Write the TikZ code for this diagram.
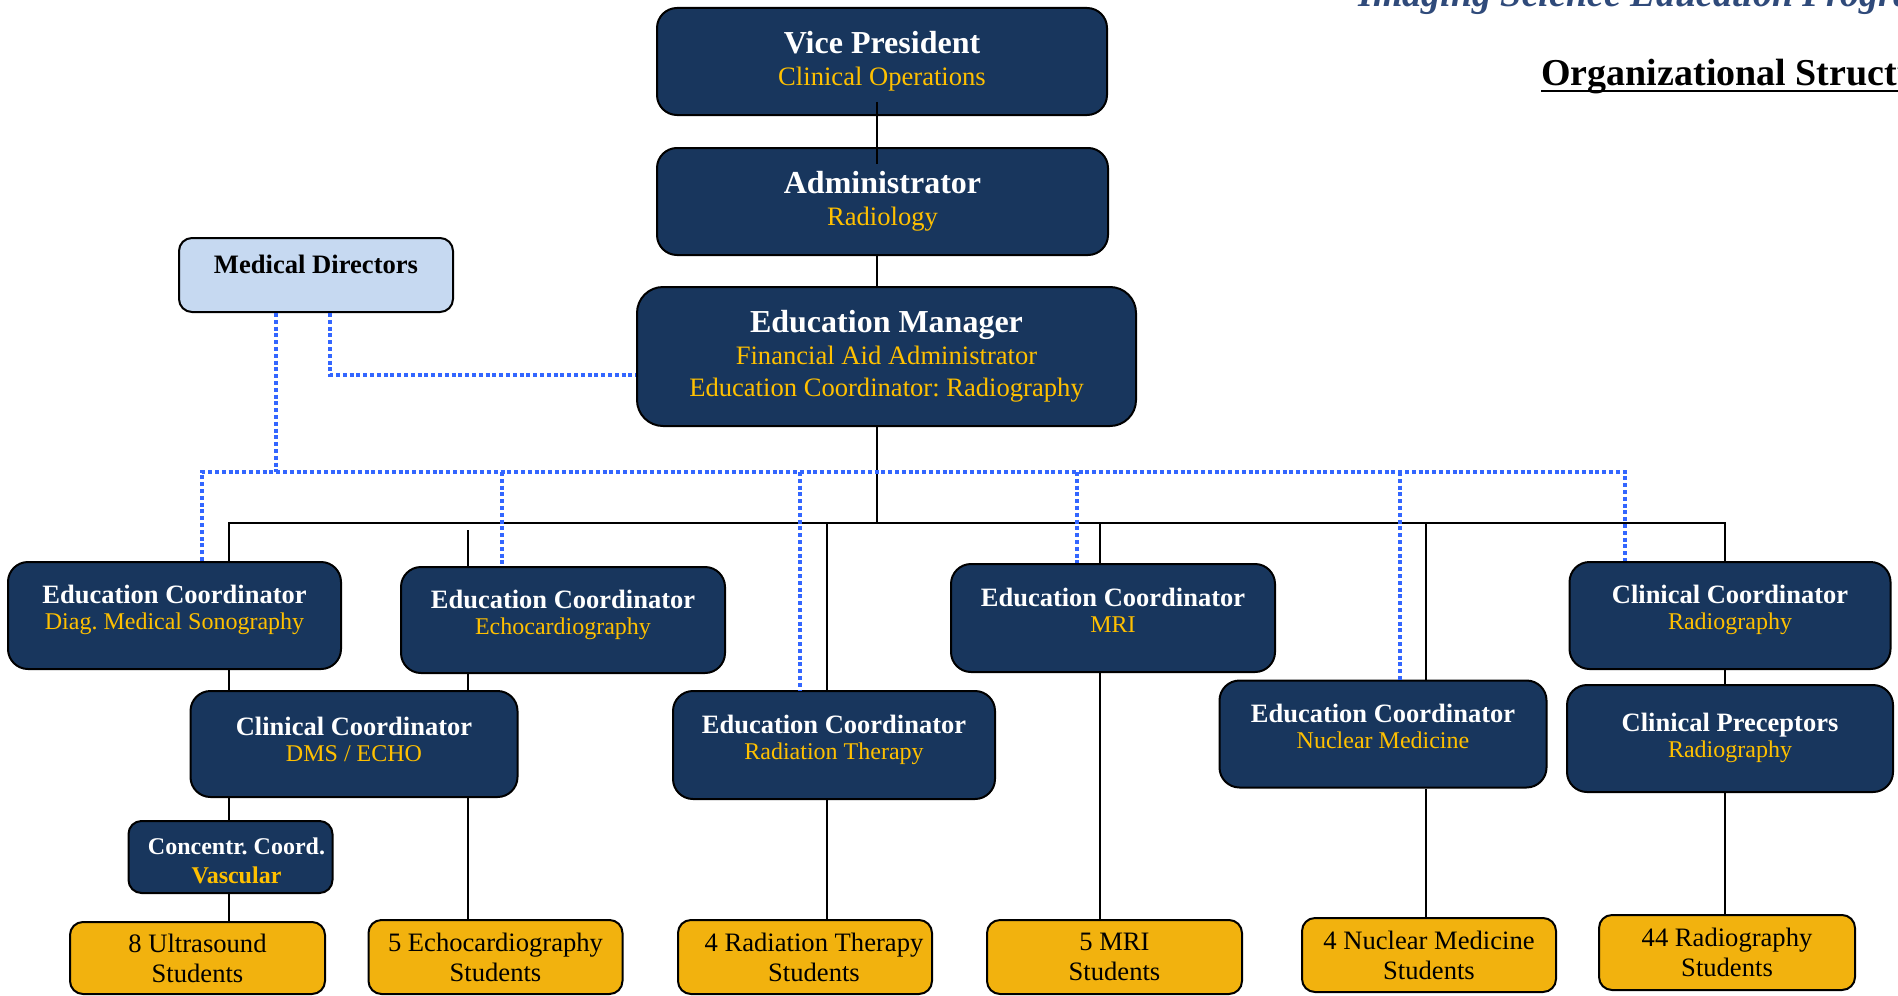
\documentclass[tikz,border=0pt]{standalone}
\usepackage{fontspec}
\setmainfont{Liberation Serif}
\usetikzlibrary{positioning}
\frenchspacing

\definecolor{navy}{RGB}{24,54,93}
\definecolor{gold}{RGB}{255,192,0}
\definecolor{amber}{RGB}{242,178,14}
\definecolor{paleblue}{RGB}{198,217,241}
\definecolor{dotblue}{RGB}{51,102,255}
\definecolor{headblue}{RGB}{47,74,122}

\newcommand{\role}[1]{{\color{gold}\fontsize{12}{13}\selectfont #1}}
\newcommand{\toprole}[1]{{\color{gold}\fontsize{13.3}{16}\selectfont #1}}

\begin{document}
\begin{tikzpicture}[
  x=0.5pt, y=-0.5pt,
  unit/.style={draw, line width=1pt, rounded corners=10pt, fill=navy, text=white, align=center, inner sep=0pt},
  topbox/.style={unit, font=\fontsize{16}{16}\selectfont},
  orgbox/.style={unit, font=\fontsize{13.25}{13}\selectfont, text depth=8pt},
  smallbox/.style={unit, rounded corners=6.5pt, font=\fontsize{12}{14.5}\selectfont\bfseries, text height=26.3pt, text depth=0pt},
  studentbox/.style={draw, line width=1pt, rounded corners=6.5pt, fill=amber, align=center, inner sep=0pt, font=\fontsize{13.3}{15}\selectfont},
  advisor/.style={draw, line width=1pt, rounded corners=6.5pt, fill=paleblue, inner sep=0pt, font=\fontsize{13.3}{13}\selectfont\bfseries, text height=17.5pt, text depth=19.5pt},
  link/.style={line width=1pt},
  advice/.style={dotblue, line width=1.75pt, dash pattern=on 2pt off 1.4pt},
  title/.style={inner sep=0pt, anchor=base west, font=\fontsize{19}{19}\selectfont\bfseries}
]
  \useasboundingbox (0,0) rectangle (1898,995);
  \clip (0,0) rectangle (1898,995);

  % headings
  \node[title, text=headblue, font=\fontsize{19}{19}\selectfont\bfseries\itshape] (prog) at (1358,7) {Imaging Science Education Program};
  \node[title] (org) at (1541,86) {Organizational Structure};
  \draw[line width=1pt] ([yshift=-2.5pt]org.base west) -- ([yshift=-2.5pt]org.base east);

  % management
  \node[topbox, minimum width=225pt, minimum height=53.5pt] (vp) at (882,61.5) {\textbf{Vice President}\\\toprole{Clinical Operations}};
  \node[topbox, minimum width=225.5pt, minimum height=53.5pt] (adm) at (882.5,201.5) {\textbf{Administrator}\\\toprole{Radiology}};
  \node[topbox, rounded corners=13pt, minimum width=249.5pt, minimum height=69.5pt] (mgr) at (886.5,356.5) {\textbf{Education Manager}\\\toprole{Financial Aid Administrator}\\\toprole{Education Coordinator: Radiography}};
  \node[advisor, minimum width=137pt, minimum height=37pt] (med) at (316,275) {Medical Directors};

  % coordinators
  \node[orgbox, minimum width=166.5pt, minimum height=53.5pt] (ecdms) at (174.5,615.5) {\textbf{Education Coordinator}\\\role{Diag. Medical Sonography}};
  \node[orgbox, minimum width=162pt, minimum height=53pt] (ececho) at (563,620) {\textbf{Education Coordinator}\\\role{Echocardiography}};
  \node[orgbox, minimum width=162pt, minimum height=54pt] (ecmri) at (1113,618) {\textbf{Education Coordinator}\\\role{MRI}};
  \node[orgbox, minimum width=160.5pt, minimum height=53.5pt] (ccrad) at (1730,615.5) {\textbf{Clinical Coordinator}\\\role{Radiography}};
  \node[orgbox, text depth=5pt, minimum width=163.5pt, minimum height=53pt] (ccdms) at (354,744) {\textbf{Clinical Coordinator}\\\role{DMS / ECHO}};
  \node[orgbox, minimum width=161pt, minimum height=54pt] (ecrt) at (834,745) {\textbf{Education Coordinator}\\\role{Radiation Therapy}};
  \node[orgbox, minimum width=163.5pt, minimum height=53.5pt] (ecnm) at (1383,734) {\textbf{Education Coordinator}\\\role{Nuclear Medicine}};
  \node[orgbox, text depth=2.8pt, minimum width=163pt, minimum height=53.5pt] (prec) at (1730,738.5) {\textbf{Clinical Preceptors}\\\role{Radiography}};
  \node[smallbox, minimum width=102pt, minimum height=36pt] (conc) at (230.5,857) {\hspace*{6pt}Concentr. Coord.\\\hspace*{6pt}{\color{gold}Vascular}};

  % students
  \node[studentbox, minimum width=127.5pt, minimum height=36pt] (st1) at (197.5,958) {8 Ultrasound\\Students};
  \node[studentbox, minimum width=127pt, minimum height=37pt] (st2) at (495.5,957) {5 Echocardiography\\Students};
  \node[studentbox, minimum width=127pt, minimum height=37pt] (st3) at (805,957) {\hspace*{9pt}4 Radiation Therapy\\\hspace*{9pt}Students};
  \node[studentbox, minimum width=127.5pt, minimum height=37pt] (st4) at (1114.5,957) {5 MRI\\Students};
  \node[studentbox, minimum width=127pt, minimum height=37pt] (st5) at (1429,955) {4 Nuclear Medicine\\Students};
  \node[studentbox, minimum width=128pt, minimum height=37.5pt] (st6) at (1727,952.5) {44 Radiography\\Students};

  % reporting lines
  \coordinate (spine) at (877,523);
  \coordinate (busL) at (229,523);
  \coordinate (busR) at (1725,523);
  \draw[link] ([yshift=7pt]vp.south -| spine) -- ([yshift=-8.5pt]adm.north -| spine);
  \draw[link] (adm.south -| spine) -- (mgr.north -| spine);
  \draw[link] (mgr.south -| spine) -- (spine);
  \draw[link] (ecdms.north -| busL) -- (busL) -- (busR) -- (ccrad.north -| busR);
  \draw[link] (468,530) -- (ececho.north -| 468,0);
  \foreach \x/\n in {827/ecrt, 1100/ecmri, 1426/ecnm}
    \draw[link] (\x,523) -- (\n.north -| \x,0);
  \foreach \x/\a/\b in {229/ecdms/ccdms, 229/ccdms/conc, 229/conc/st1, 468/ececho/ccdms, 468/ccdms/st2, 827/ecrt/st3, 1100/ecmri/st4, 1426/ecnm/st5, 1725/ccrad/prec, 1725/prec/st6}
    \draw[link] (\a.south -| \x,0) -- (\b.north -| \x,0);

  % advisory lines
  \draw[advice] (med.south -| 330,0) -- (330,375) -- (mgr.west |- 330,375);
  \draw[advice] (med.south -| 276,0) -- (276,472);
  \draw[advice] (ecdms.north -| 202,0) -- (202,472) -- (1625,472) -- (ccrad.north -| 1625,0);
  \foreach \x/\n in {502/ececho, 800/ecrt, 1077/ecmri, 1400/ecnm}
    \draw[advice] (\x,472) -- (\n.north -| \x,0);
\end{tikzpicture}
\end{document}
